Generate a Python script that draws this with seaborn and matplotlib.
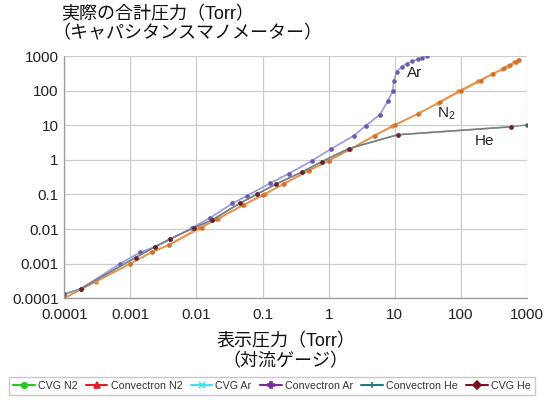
import pandas as pd
import seaborn as sns
import matplotlib.pyplot as plt
from matplotlib.lines import Line2D

# indicated pressure (convection gauge) vs actual pressure (capacitance manometer), Torr
cvg_n2_x = [0.0001, 0.0003, 0.001, 0.0021, 0.0038, 0.011, 0.021, 0.052, 0.11, 0.2, 0.5, 1.0,
            2.1, 4.8, 9, 23, 45, 90, 180, 290, 420, 520, 640, 730]
cvg_n2_y = [0.0001, 0.0003, 0.001, 0.0022, 0.0035, 0.011, 0.019, 0.05, 0.1, 0.2, 0.5, 0.95,
            2.0, 5.0, 9.5, 22, 45, 95, 190, 300, 420, 530, 650, 750]
conv_n2_x = [0.0001, 0.001, 0.0021, 0.0038, 0.012, 0.02, 0.05, 0.1, 0.21, 0.5, 1.0,
             2.1, 5, 10, 22, 48, 100, 200, 300, 450, 560, 680, 760]
conv_n2_y = [0.0001, 0.001, 0.0021, 0.0034, 0.011, 0.019, 0.049, 0.098, 0.2, 0.48, 0.93,
             2.0, 5.0, 10, 21, 46, 98, 195, 300, 440, 550, 670, 760]
cvg_ar_x = [0.0001, 0.00018, 0.0007, 0.0014, 0.0024, 0.004, 0.0087, 0.016, 0.035, 0.059,
            0.13, 0.25, 0.55, 1.1, 2.4, 3.6, 5.9, 7.9, 9.3]
cvg_ar_y = [0.00013, 0.00019, 0.001, 0.0021, 0.0031, 0.005, 0.011, 0.021, 0.055, 0.093,
            0.21, 0.4, 0.93, 2.1, 5.0, 9.6, 20, 51, 100]
conv_ar_x = [0.0001, 0.00018, 0.0007, 0.0014, 0.0024, 0.004, 0.0087, 0.016, 0.035, 0.059,
             0.13, 0.25, 0.55, 1.1, 2.4, 3.6, 5.9, 7.9, 9.3, 9.6, 10.7, 12.7, 15, 18, 22,
             26, 31]
conv_ar_y = [0.00013, 0.00019, 0.001, 0.0021, 0.0031, 0.005, 0.011, 0.021, 0.055, 0.093,
             0.21, 0.4, 0.93, 2.1, 5.0, 9.6, 20, 51, 100, 195, 355, 490, 600, 700, 800,
             900, 1000]
conv_he_x = [0.0001, 0.00018, 0.0012, 0.0024, 0.004, 0.0093, 0.017, 0.045, 0.081, 0.16,
             0.4, 0.78, 2.0, 11, 570, 1000]
conv_he_y = [0.00013, 0.00019, 0.0015, 0.0031, 0.0052, 0.011, 0.018, 0.055, 0.1, 0.2,
             0.45, 0.88, 2.1, 5.3, 9.0, 10.2]
cvg_he_x = [0.00018, 0.0012, 0.0024, 0.004, 0.0093, 0.017, 0.045, 0.081, 0.16, 0.4,
            0.78, 2.0, 11, 570]
cvg_he_y = [0.00019, 0.0015, 0.0031, 0.0052, 0.011, 0.018, 0.055, 0.1, 0.2, 0.45,
            0.88, 2.1, 5.3, 9.0]

series_names = ["CVG N2", "Convectron N2", "CVG Ar", "Convectron Ar", "Convectron He", "CVG He"]
series_data = [(cvg_n2_x, cvg_n2_y), (conv_n2_x, conv_n2_y), (cvg_ar_x, cvg_ar_y),
               (conv_ar_x, conv_ar_y), (conv_he_x, conv_he_y), (cvg_he_x, cvg_he_y)]

rows = []
for name, (xs, ys) in zip(series_names, series_data):
    for x, y in zip(xs, ys):
        rows.append({"series": name, "indicated": x, "actual": y})
df = pd.DataFrame(rows)

sns.set_theme(style="whitegrid")
plt.rcParams["font.family"] = ["Liberation Sans", "Noto Sans CJK JP", "DejaVu Sans"]
plt.rcParams["mathtext.default"] = "regular"

# colours as they look inside the plot area
line_colors = {"CVG N2": "#F0A060", "Convectron N2": "#E8904A", "CVG Ar": "#A8C0F0",
               "Convectron Ar": "#A09CE0", "Convectron He": "#8A9494", "CVG He": "#7A8080"}
marker_colors = {"CVG N2": "#E08A3A", "Convectron N2": "#D0702A", "CVG Ar": "#8090D8",
                 "Convectron Ar": "#6A5AB0", "Convectron He": "#505858", "CVG He": "#6B1F2E"}
# colours shown in the legend
legend_colors = {"CVG N2": "#22CC22", "Convectron N2": "#E02020", "CVG Ar": "#40E0F0",
                 "Convectron Ar": "#7A2A9A", "Convectron He": "#207A80", "CVG He": "#7A1020"}
legend_markers = {"CVG N2": "o", "Convectron N2": "^", "CVG Ar": "x",
                  "Convectron Ar": "P", "Convectron He": "+", "CVG He": "D"}

fig = plt.figure(figsize=(5.44, 4.03), dpi=100)
ax = fig.add_axes([0.118, 0.26, 0.851, 0.601])

for name in series_names:
    sub = df[df["series"] == name]
    sns.lineplot(data=sub, x="indicated", y="actual", ax=ax, color=line_colors[name],
                 linewidth=1.1, marker="o", markersize=3.2, markeredgewidth=0,
                 markerfacecolor=marker_colors[name], estimator=None, sort=False,
                 legend=False)

ax.set_xscale("log")
ax.set_yscale("log")
ax.set_xlim(0.0001, 1000)
ax.set_ylim(0.0001, 1000)
ticks = [0.0001, 0.001, 0.01, 0.1, 1, 10, 100, 1000]
tick_labels = ["0.0001", "0.001", "0.01", "0.1", "1", "10", "100", "1000"]
ax.set_xticks(ticks)
ax.set_xticklabels(tick_labels)
ax.set_yticks(ticks)
ax.set_yticklabels(tick_labels)
ax.minorticks_off()
ax.tick_params(axis="both", labelsize=11, colors="#222222", pad=1, length=3, width=0.8)
ax.tick_params(axis="x", pad=4)
ax.grid(True, color="#CCCCCC", linewidth=0.9)
for s in ["top", "right"]:
    ax.spines[s].set_visible(False)
for s in ["left", "bottom"]:
    ax.spines[s].set_color("#999999")
    ax.spines[s].set_linewidth(0.9)
ax.set_xlabel("")
ax.set_ylabel("")

ax.text(20, 330, "Ar", fontsize=11, color="#222222", ha="center", va="center")
ax.text(60, 22, "N$_2$", fontsize=11, color="#222222", ha="center", va="center")
ax.text(230, 3.6, "He", fontsize=11, color="#222222", ha="center", va="center")

fig.text(0.112, 0.963, "実際の合計圧力（Torr）", fontsize=13, ha="left", va="center",
         color="#111111")
fig.text(0.097, 0.916, "（キャパシタンスマノメーター）", fontsize=13, ha="left", va="center",
         color="#111111")
fig.text(0.525, 0.151, "表示圧力（Torr）", fontsize=13, ha="center", va="center",
         color="#111111")
fig.text(0.525, 0.103, "（対流ゲージ）", fontsize=13, ha="center", va="center",
         color="#111111")

handles = [Line2D([0], [0], color=legend_colors[n], marker=legend_markers[n], markersize=4,
                  linewidth=1.5, markeredgewidth=1.2) for n in series_names]
fig.legend(handles, series_names, loc="center", bbox_to_anchor=(0.5, 0.042), ncol=6,
           fontsize=7.7, frameon=True, fancybox=False, edgecolor="#BBBBBB",
           handlelength=2.0, handletextpad=0.3, columnspacing=0.8, borderpad=0.4,
           labelcolor="#333333")

fig.savefig("out.png", dpi=100, facecolor="white")
